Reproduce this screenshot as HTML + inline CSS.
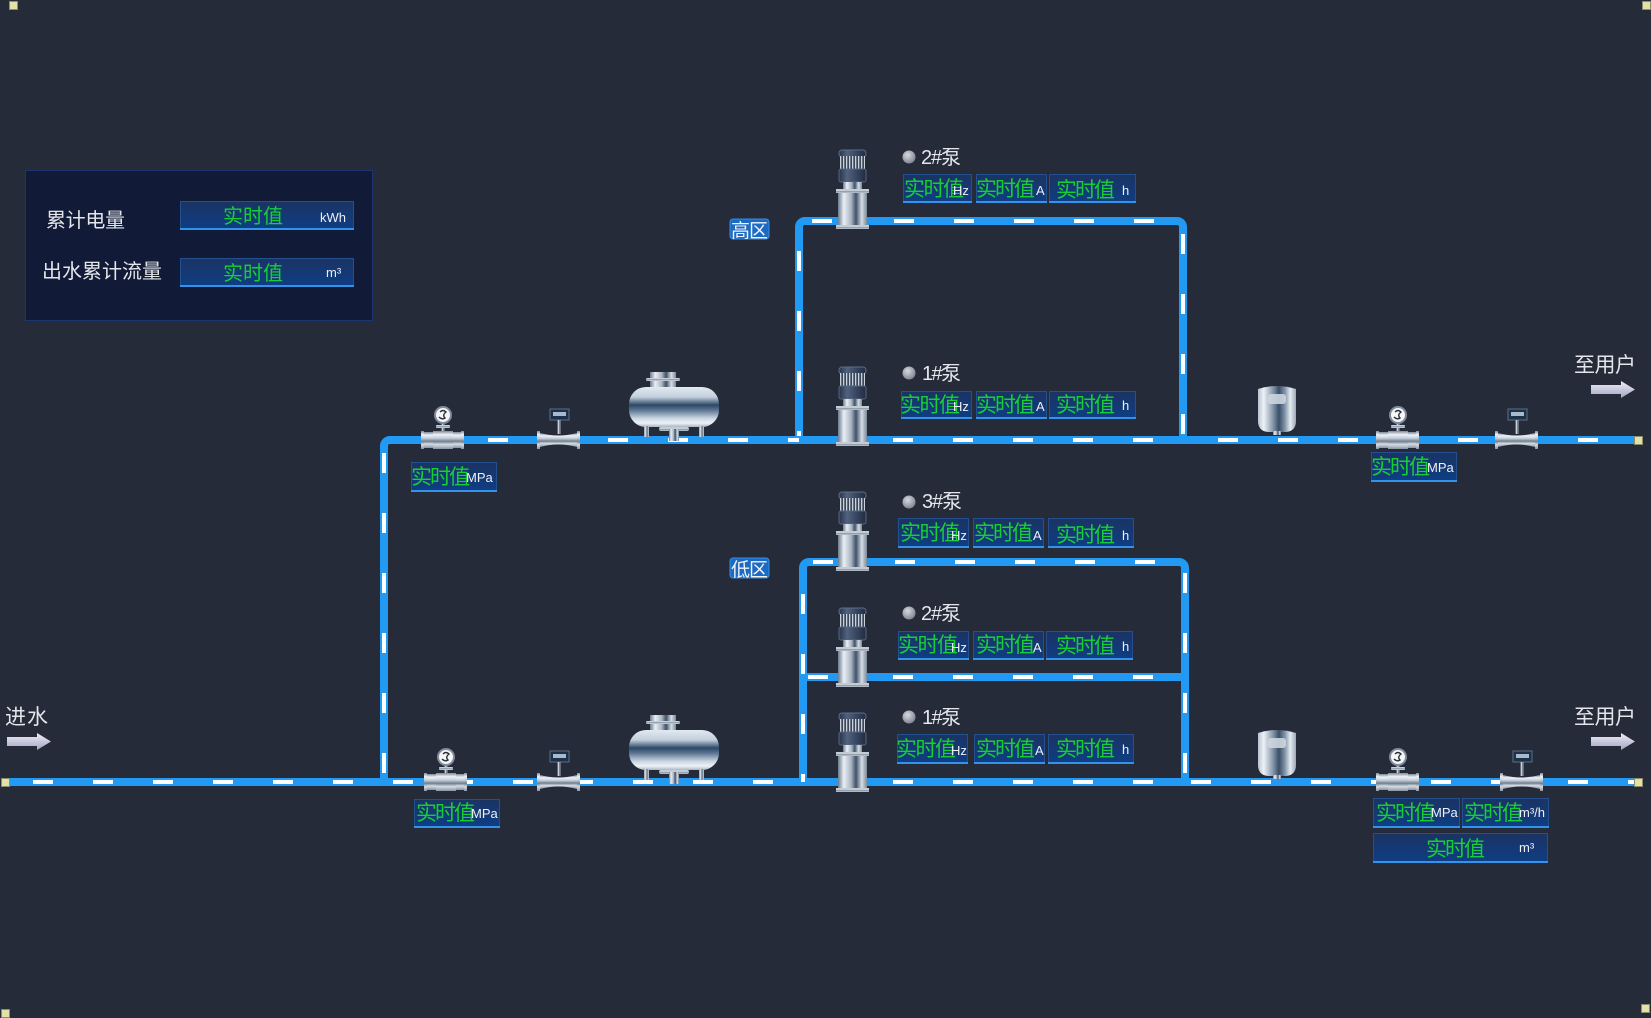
<!DOCTYPE html>
<html><head><meta charset="utf-8"><title>供水系统</title>
<style>
html,body{margin:0;padding:0;background:#262b3a;width:1651px;height:1018px;overflow:hidden}
svg{display:block}
.cj{font-family:"Liberation Sans","Noto Sans CJK SC",sans-serif}
.lbl{fill:#e4e6ea;font-size:20px}
.val{fill:#17cf35;font-size:21px}
.unit{fill:#eef0f4;font-size:13px;font-family:"Liberation Sans",sans-serif}
</style></head>
<body>
<svg xmlns="http://www.w3.org/2000/svg" xmlns:xlink="http://www.w3.org/1999/xlink" width="1651" height="1018" viewBox="0 0 1651 1018">
<defs>
 <linearGradient id="box" x1="0" y1="0" x2="0" y2="1"><stop offset="0" stop-color="#1b3363"/><stop offset="1" stop-color="#0e3e84"/></linearGradient>
 <linearGradient id="hs" x1="0" y1="0" x2="1" y2="0"><stop offset="0" stop-color="#6b7a8c"/><stop offset=".2" stop-color="#e8eef4"/><stop offset=".45" stop-color="#aab6c3"/><stop offset=".62" stop-color="#3f5068"/><stop offset=".82" stop-color="#d6dee6"/><stop offset="1" stop-color="#7a8898"/></linearGradient>
 <linearGradient id="vs" x1="0" y1="0" x2="0" y2="1"><stop offset="0" stop-color="#7d8a98"/><stop offset=".2" stop-color="#eef2f6"/><stop offset=".4" stop-color="#c3ccd6"/><stop offset=".58" stop-color="#6f7e8f"/><stop offset=".75" stop-color="#d6dde5"/><stop offset="1" stop-color="#8995a3"/></linearGradient>
 <linearGradient id="motor" x1="0" y1="0" x2="1" y2="0"><stop offset="0" stop-color="#27334a"/><stop offset=".3" stop-color="#52627e"/><stop offset=".6" stop-color="#3a4964"/><stop offset="1" stop-color="#222c40"/></linearGradient>
 <linearGradient id="tankg" x1="0" y1="0" x2="0" y2="1"><stop offset="0" stop-color="#e2e9f0"/><stop offset=".25" stop-color="#c2cfdc"/><stop offset=".45" stop-color="#2c4866"/><stop offset=".58" stop-color="#5c7592"/><stop offset=".78" stop-color="#c8d5e1"/><stop offset=".9" stop-color="#eef2f6"/><stop offset="1" stop-color="#a9b7c6"/></linearGradient>
 <linearGradient id="vesg" x1="0" y1="0" x2="1" y2="0"><stop offset="0" stop-color="#b8c4d0"/><stop offset=".15" stop-color="#eef2f6"/><stop offset=".4" stop-color="#8294a8"/><stop offset=".55" stop-color="#3a4e66"/><stop offset=".7" stop-color="#7d90a4"/><stop offset=".85" stop-color="#e4eaf0"/><stop offset="1" stop-color="#9aa8b8"/></linearGradient>
 <linearGradient id="arr" x1="0" y1="0" x2="0" y2="1"><stop offset="0" stop-color="#eeeef8"/><stop offset="1" stop-color="#a4a4c0"/></linearGradient>
 <radialGradient id="dot" cx=".4" cy=".35" r=".7"><stop offset="0" stop-color="#d6dae2"/><stop offset="1" stop-color="#7a808c"/></radialGradient>
 <pattern id="fins" width="3" height="14" patternUnits="userSpaceOnUse"><rect width="3" height="14" fill="#3b475a"/><rect x="1" width="1.3" height="14" fill="#c9d1da"/></pattern>
 <g id="pump">
  <rect x="3" y="0" width="27" height="7" rx="3" fill="url(#motor)" stroke="#5d6d88" stroke-width="1"/>
  <rect x="4" y="6" width="25" height="14" fill="url(#fins)"/>
  <rect x="3" y="19" width="27" height="13" rx="2" fill="url(#motor)" stroke="#56657f" stroke-width="1"/>
  <rect x="7" y="32" width="19" height="8" fill="url(#hs)"/>
  <rect x="0" y="39" width="33" height="4" fill="url(#vs)"/>
  <rect x="2" y="43" width="29" height="32" fill="url(#hs)"/>
  <rect x="0" y="75" width="33" height="4" fill="url(#vs)"/>
 </g>
 <g id="gv">
  <rect x="20.5" y="-18" width="3" height="12" fill="url(#hs)"/>
  <rect x="15" y="-15" width="14" height="3" rx="1" fill="url(#vs)"/>
  <circle cx="22" cy="-25" r="8" fill="#f4f6f8" stroke="#7f8c9a" stroke-width="2"/>
  <path d="M19,-28 q3,-3 6,0 q-4,3 -1,6 q-3,2 -6,-1" fill="none" stroke="#2a2f3a" stroke-width="1.4"/>
  <rect x="0" y="-8" width="43" height="16" fill="url(#vs)"/>
  <rect x="0" y="-9" width="3" height="18" fill="url(#vs)"/>
  <rect x="40" y="-9" width="3" height="18" fill="url(#vs)"/>
  <rect x="12" y="-9" width="20" height="18" fill="url(#vs)"/>
 </g>
 <g id="fm">
  <rect x="13" y="-31" width="19" height="11" fill="#1d3148" stroke="#5b6f86"/>
  <rect x="16" y="-28" width="13" height="4" fill="#a8bbcd"/>
  <rect x="20.5" y="-20" width="3" height="14" fill="url(#hs)"/>
  <path d="M3,-7 Q21.5,-2 40,-7 V7 Q21.5,2 3,7 Z" fill="url(#vs)"/>
  <rect x="0" y="-9" width="3" height="18" fill="url(#vs)"/>
  <rect x="40" y="-9" width="3" height="18" fill="url(#vs)"/>
 </g>
 <g id="tank">
  <rect x="21" y="0" width="26" height="18" fill="url(#hs)"/>
  <rect x="17" y="6" width="34" height="3" rx="1.5" fill="url(#vs)"/>
  <rect x="0" y="15" width="90" height="40" rx="17" fill="url(#tankg)"/>
  <rect x="15" y="54" width="5" height="11" fill="url(#hs)"/>
  <rect x="70" y="54" width="5" height="11" fill="url(#hs)"/>
  <rect x="30" y="55" width="30" height="4" rx="2" fill="url(#vs)"/>
  <rect x="40" y="57" width="10" height="12" fill="url(#hs)"/>
 </g>
 <g id="ves">
  <path d="M0,4 Q19,-2 38,4 V36 Q38,46 28,47 H10 Q0,46 0,36 Z" fill="url(#vesg)"/>
  <rect x="10" y="9" width="18" height="10" rx="3" fill="#cdd6df" opacity=".9"/>
  <rect x="15" y="46" width="8" height="4" fill="url(#hs)"/>
 </g>
 <path id="arrow" d="M0,4 H30 V0 L44,8.5 L30,17 V13 H0 Z" fill="url(#arr)"/>
</defs>

<rect width="1651" height="1018" fill="#262b3a"/>

<!-- corner markers -->
<g fill="#e2e2a6" stroke="#8c8c6a" stroke-width="1">
 <rect x="9.5" y="1.5" width="8" height="8"/>
 <rect x="1642.5" y="1.5" width="8" height="8"/>
 <rect x="1.5" y="1009.5" width="8" height="8"/>
 <rect x="1641.5" y="1004.5" width="8" height="8"/>
</g>

<!-- info panel -->
<rect x="25.5" y="170.5" width="347" height="150" fill="#111a36" stroke="#1a3570"/>
<text class="cj lbl" x="46" y="227" textLength="79">累计电量</text>
<text class="cj lbl" x="42" y="278" textLength="120">出水累计流量</text>
<rect x="180.5" y="201.5" width="173" height="28" fill="url(#box)" stroke="#24508f"/>
<line x1="180" y1="229" x2="354" y2="229" stroke="#3393ea" stroke-width="2"/>
<text class="cj val" x="223" y="223" textLength="60" style="font-size:20px">实时值</text>
<text class="unit" x="320" y="222">kWh</text>
<rect x="180.5" y="258.5" width="173" height="28" fill="url(#box)" stroke="#24508f"/>
<line x1="180" y1="286" x2="354" y2="286" stroke="#3393ea" stroke-width="2"/>
<text class="cj val" x="223" y="280" textLength="60" style="font-size:20px">实时值</text>
<text class="unit" x="326" y="277">m³</text>

<!-- pipes -->
<g fill="none" stroke="#2299f2" stroke-width="8" stroke-linejoin="round">
 <path d="M9,782 H1634"/>
 <path d="M384,782 V446 A6,6 0 0 1 390,440 H1634"/>
 <path d="M799,440 V227 A6,6 0 0 1 805,221 H1177 A6,6 0 0 1 1183,227 V440"/>
 <path d="M803,782 V568 A6,6 0 0 1 809,562 H1179 A6,6 0 0 1 1185,568 V782"/>
 <path d="M803,677 H1185"/>
</g>
<g fill="none" stroke="#ffffff" stroke-width="4" stroke-dasharray="20 40">
 <line x1="33" y1="782" x2="803" y2="782"/>
 <line x1="893" y1="782" x2="1185" y2="782"/>
 <line x1="1191" y1="782" x2="1545" y2="782"/>
 <line x1="1568" y1="782" x2="1634" y2="782"/>
 <line x1="428" y1="440" x2="799" y2="440"/>
 <line x1="893" y1="440" x2="1183" y2="440"/>
 <line x1="1218" y1="440" x2="1634" y2="440"/>
 <line x1="384" y1="453" x2="384" y2="782"/>
 <line x1="799" y1="251" x2="799" y2="436"/>
 <line x1="1183" y1="234" x2="1183" y2="440"/>
 <line x1="812" y1="221" x2="832" y2="221"/>
 <line x1="894" y1="221" x2="1176" y2="221"/>
 <line x1="813" y1="562" x2="833" y2="562"/>
 <line x1="895" y1="562" x2="1178" y2="562"/>
 <line x1="808" y1="677" x2="828" y2="677"/>
 <line x1="893" y1="677" x2="1180" y2="677"/>
 <line x1="803" y1="594" x2="803" y2="782"/>
 <line x1="1185" y1="573" x2="1185" y2="782"/>
</g>
<g fill="#e2e2a6" stroke="#8c8c6a" stroke-width="1">
 <rect x="1.5" y="778.5" width="8" height="8"/>
 <rect x="1634.5" y="436.5" width="8" height="8"/>
 <rect x="1634.5" y="778.5" width="8" height="8"/>
</g>

<!-- equipment -->
<use xlink:href="#gv" x="421" y="440"/>
<use xlink:href="#gv" x="424" y="782"/>
<use xlink:href="#gv" x="1376" y="440"/>
<use xlink:href="#gv" x="1376" y="782"/>
<use xlink:href="#fm" x="537" y="440"/>
<use xlink:href="#fm" x="537" y="782"/>
<use xlink:href="#fm" x="1495" y="440"/>
<use xlink:href="#fm" x="1500" y="782"/>
<use xlink:href="#tank" x="629" y="372"/>
<use xlink:href="#tank" x="629" y="715"/>
<use xlink:href="#ves" x="1258" y="385"/>
<use xlink:href="#ves" x="1258" y="729"/>
<use xlink:href="#pump" x="836" y="150"/>
<use xlink:href="#pump" x="836" y="367"/>
<use xlink:href="#pump" x="836" y="492"/>
<use xlink:href="#pump" x="836" y="608"/>
<use xlink:href="#pump" x="836" y="713"/>

<!-- arrows & io labels -->
<use xlink:href="#arrow" x="7" y="733"/>
<use xlink:href="#arrow" x="1591" y="381"/>
<use xlink:href="#arrow" x="1591" y="733"/>
<text class="cj lbl" x="5" y="724" textLength="43" style="font-size:21px">进水</text>
<text class="cj lbl" x="1574" y="372" textLength="62" style="font-size:21px">至用户</text>
<text class="cj lbl" x="1574" y="724" textLength="62" style="font-size:21px">至用户</text>

<!-- zone labels -->
<rect x="730" y="219" width="39" height="20" rx="3" fill="#1b6bc4" stroke="#3a8de0"/>
<text class="cj" x="731" y="237" textLength="37" style="font-size:19px;fill:#f0f2f6">高区</text>
<rect x="730" y="558" width="39" height="20" rx="3" fill="#1b6bc4" stroke="#3a8de0"/>
<text class="cj" x="731" y="576" textLength="37" style="font-size:19px;fill:#f0f2f6">低区</text>

<!-- pump labels -->
<g>
 <circle cx="909" cy="157" r="6.5" fill="url(#dot)"/>
 <text class="cj lbl" x="921" y="164" textLength="40">2#泵</text>
 <circle cx="909" cy="373" r="6.5" fill="url(#dot)"/>
 <text class="cj lbl" x="922" y="380" textLength="39">1#泵</text>
 <circle cx="909" cy="502" r="6.5" fill="url(#dot)"/>
 <text class="cj lbl" x="922" y="508" textLength="40">3#泵</text>
 <circle cx="909" cy="613" r="6.5" fill="url(#dot)"/>
 <text class="cj lbl" x="921" y="620" textLength="40">2#泵</text>
 <circle cx="909" cy="717" r="6.5" fill="url(#dot)"/>
 <text class="cj lbl" x="922" y="724" textLength="39">1#泵</text>
</g>

<!-- data boxes -->
<g stroke="#24508f" fill="url(#box)">
 <rect x="903.5" y="174.5" width="68" height="28"/><rect x="976.5" y="174.5" width="70" height="28"/><rect x="1049.5" y="174.5" width="86" height="28"/>
 <rect x="901.5" y="391.5" width="70" height="27"/><rect x="976.5" y="391.5" width="70" height="27"/><rect x="1049.5" y="391.5" width="86" height="27"/>
 <rect x="898.5" y="518.5" width="70" height="29"/><rect x="973.5" y="518.5" width="70" height="29"/><rect x="1048.5" y="518.5" width="85" height="29"/>
 <rect x="898.5" y="631.5" width="70" height="28"/><rect x="973.5" y="631.5" width="70" height="28"/><rect x="1046.5" y="631.5" width="86" height="28"/>
 <rect x="897.5" y="734.5" width="70" height="29"/><rect x="974.5" y="734.5" width="70" height="29"/><rect x="1048.5" y="734.5" width="85" height="29"/>
 <rect x="411.5" y="462.5" width="85" height="29"/>
 <rect x="414.5" y="799.5" width="85" height="28"/>
 <rect x="1371.5" y="452.5" width="85" height="29"/>
 <rect x="1373.5" y="798.5" width="86" height="29"/>
 <rect x="1462.5" y="798.5" width="86" height="29"/>
 <rect x="1373.5" y="833.5" width="174" height="29"/>
</g>
<g stroke="#3393ea" stroke-width="2">
 <line x1="903" y1="202" x2="972" y2="202"/><line x1="976" y1="202" x2="1047" y2="202"/><line x1="1049" y1="202" x2="1136" y2="202"/>
 <line x1="901" y1="418" x2="972" y2="418"/><line x1="976" y1="418" x2="1047" y2="418"/><line x1="1049" y1="418" x2="1136" y2="418"/>
 <line x1="898" y1="547" x2="969" y2="547"/><line x1="973" y1="547" x2="1044" y2="547"/><line x1="1048" y1="547" x2="1134" y2="547"/>
 <line x1="898" y1="659" x2="969" y2="659"/><line x1="973" y1="659" x2="1044" y2="659"/><line x1="1046" y1="659" x2="1133" y2="659"/>
 <line x1="897" y1="763" x2="968" y2="763"/><line x1="974" y1="763" x2="1045" y2="763"/><line x1="1048" y1="763" x2="1134" y2="763"/>
 <line x1="411" y1="491" x2="497" y2="491"/>
 <line x1="414" y1="827" x2="500" y2="827"/>
 <line x1="1371" y1="481" x2="1457" y2="481"/>
 <line x1="1373" y1="827" x2="1460" y2="827"/>
 <line x1="1462" y1="827" x2="1549" y2="827"/>
 <line x1="1373" y1="862" x2="1548" y2="862"/>
</g>

<g class="cj">
 <!-- high 2# -->
 <text class="val" x="904" y="196" textLength="60">实时值</text><text class="unit" x="953" y="195">Hz</text>
 <text class="val" x="976" y="196" textLength="59">实时值</text><text class="unit" x="1036" y="195">A</text>
 <text class="val" x="1056" y="197" textLength="59">实时值</text><text class="unit" x="1122" y="195">h</text>
 <!-- high 1# -->
 <text class="val" x="900" y="412" textLength="60">实时值</text><text class="unit" x="953" y="411">Hz</text>
 <text class="val" x="976" y="412" textLength="59">实时值</text><text class="unit" x="1036" y="411">A</text>
 <text class="val" x="1056" y="412" textLength="59">实时值</text><text class="unit" x="1122" y="410">h</text>
 <!-- low 3# -->
 <text class="val" x="900" y="540" textLength="60">实时值</text><text class="unit" x="951" y="540">Hz</text>
 <text class="val" x="974" y="540" textLength="59">实时值</text><text class="unit" x="1033" y="540">A</text>
 <text class="val" x="1056" y="542" textLength="59">实时值</text><text class="unit" x="1122" y="540">h</text>
 <!-- low 2# -->
 <text class="val" x="898" y="652" textLength="60">实时值</text><text class="unit" x="951" y="652">Hz</text>
 <text class="val" x="976" y="652" textLength="59">实时值</text><text class="unit" x="1033" y="652">A</text>
 <text class="val" x="1056" y="653" textLength="59">实时值</text><text class="unit" x="1122" y="651">h</text>
 <!-- low 1# -->
 <text class="val" x="896" y="756" textLength="60">实时值</text><text class="unit" x="951" y="755">Hz</text>
 <text class="val" x="976" y="756" textLength="59">实时值</text><text class="unit" x="1035" y="755">A</text>
 <text class="val" x="1056" y="756" textLength="59">实时值</text><text class="unit" x="1122" y="754">h</text>
 <!-- pressure / flow -->
 <text class="val" x="411" y="484" textLength="59">实时值</text><text class="unit" x="466" y="482">MPa</text>
 <text class="val" x="416" y="820" textLength="59">实时值</text><text class="unit" x="471" y="818">MPa</text>
 <text class="val" x="1371" y="474" textLength="59">实时值</text><text class="unit" x="1427" y="472">MPa</text>
 <text class="val" x="1376" y="820" textLength="59">实时值</text><text class="unit" x="1431" y="817">MPa</text>
 <text class="val" x="1464" y="820" textLength="59">实时值</text><text class="unit" x="1519" y="817">m³/h</text>
 <text class="val" x="1426" y="856" textLength="59">实时值</text><text class="unit" x="1519" y="852">m³</text>
</g>
</svg>
</body></html>
